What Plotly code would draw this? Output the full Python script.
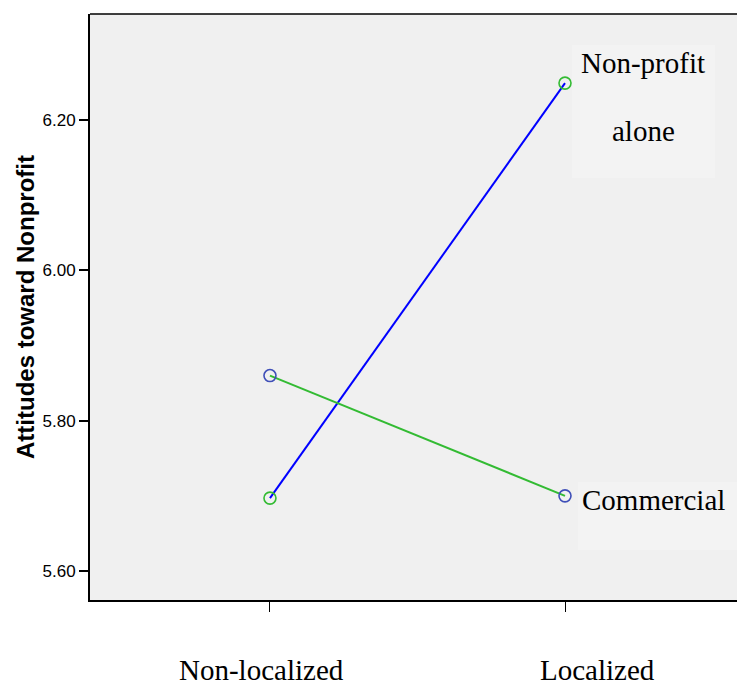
import plotly.graph_objects as go

categories = ["Non-localized", "Localized"]
nonprofit_alone = [5.697, 6.249]
commercial = [5.860, 5.700]
y_ticks = [5.60, 5.80, 6.00, 6.20]
y_ticklabels = ["5.60", "5.80", "6.00", "6.20"]
x_label_shift = [-8, 32]

xpos = [0, 1]
SERIF = "Liberation Serif"
SANS = "Liberation Sans"

fig = go.Figure()
fig.add_trace(go.Scatter(
    x=xpos, y=nonprofit_alone, mode="lines+markers",
    line=dict(color="#0000ff", width=2),
    marker=dict(symbol="circle-open", size=12, color="#33bb33", line=dict(width=1.6)),
    showlegend=False, hoverinfo="skip"))
fig.add_trace(go.Scatter(
    x=xpos, y=commercial, mode="lines+markers",
    line=dict(color="#33bb33", width=2),
    marker=dict(symbol="circle-open", size=12, color="#3f4fb8", line=dict(width=1.6)),
    showlegend=False, hoverinfo="skip"))

W, H = 647, 586  # plot area size in px
def px(x):
    return (x - 90) / W
def py(y):
    return (600 - y) / H

# label boxes
fig.add_shape(type="rect", xref="paper", yref="paper",
              x0=px(572), x1=px(715), y0=py(178), y1=py(45),
              fillcolor="#f3f3f3", line=dict(width=0), layer="below")
fig.add_shape(type="rect", xref="paper", yref="paper",
              x0=px(578), x1=1.0, y0=py(550), y1=py(482),
              fillcolor="#f3f3f3", line=dict(width=0), layer="below")

for txt, cx, cy in [("Non-profit", 643, 63), ("alone", 643, 131), ("Commercial", 653, 500)]:
    fig.add_annotation(x=px(cx), y=py(cy), xref="paper", yref="paper",
                       xanchor="center", yanchor="middle",
                       text=txt, showarrow=False,
                       font=dict(family=SERIF, size=29, color="black"))

for xp, lab, sh in zip(xpos, categories, x_label_shift):
    fig.add_annotation(x=xp, y=0, xref="x", yref="paper", yshift=-70, xshift=sh,
                       xanchor="center", yanchor="middle",
                       text=lab, showarrow=False,
                       font=dict(family=SERIF, size=29, color="black"))

fig.update_layout(
    width=737, height=688,
    margin=dict(l=90, r=0, t=14, b=88),
    paper_bgcolor="white", plot_bgcolor="#f0f0f0",
    xaxis=dict(range=[-0.61, 1.583], tickvals=xpos, ticktext=["", ""],
               ticks="outside", ticklen=10, tickcolor="black", tickwidth=1,
               showgrid=False, zeroline=False, showline=True, linecolor="black",
               linewidth=2, mirror=False),
    yaxis=dict(range=[5.5615, 6.3409], tickvals=y_ticks, ticktext=y_ticklabels,
               ticks="outside", ticklen=9, tickcolor="black", tickwidth=2,
               tickfont=dict(family=SANS, size=17, color="black"),
               showgrid=False, zeroline=False, showline=True, linecolor="black",
               linewidth=2,
               title=dict(text="<b>Attitudes toward Nonprofit</b>", standoff=1,
                          font=dict(family=SANS, size=24, color="black"))),
)
# top border
fig.add_shape(type="line", xref="paper", yref="paper", x0=0, x1=1, y0=1, y1=1,
              line=dict(color="black", width=1.5))

fig.write_html("out.html", config={"displayModeBar": False},
               post_script="document.body.style.margin='0px';")
